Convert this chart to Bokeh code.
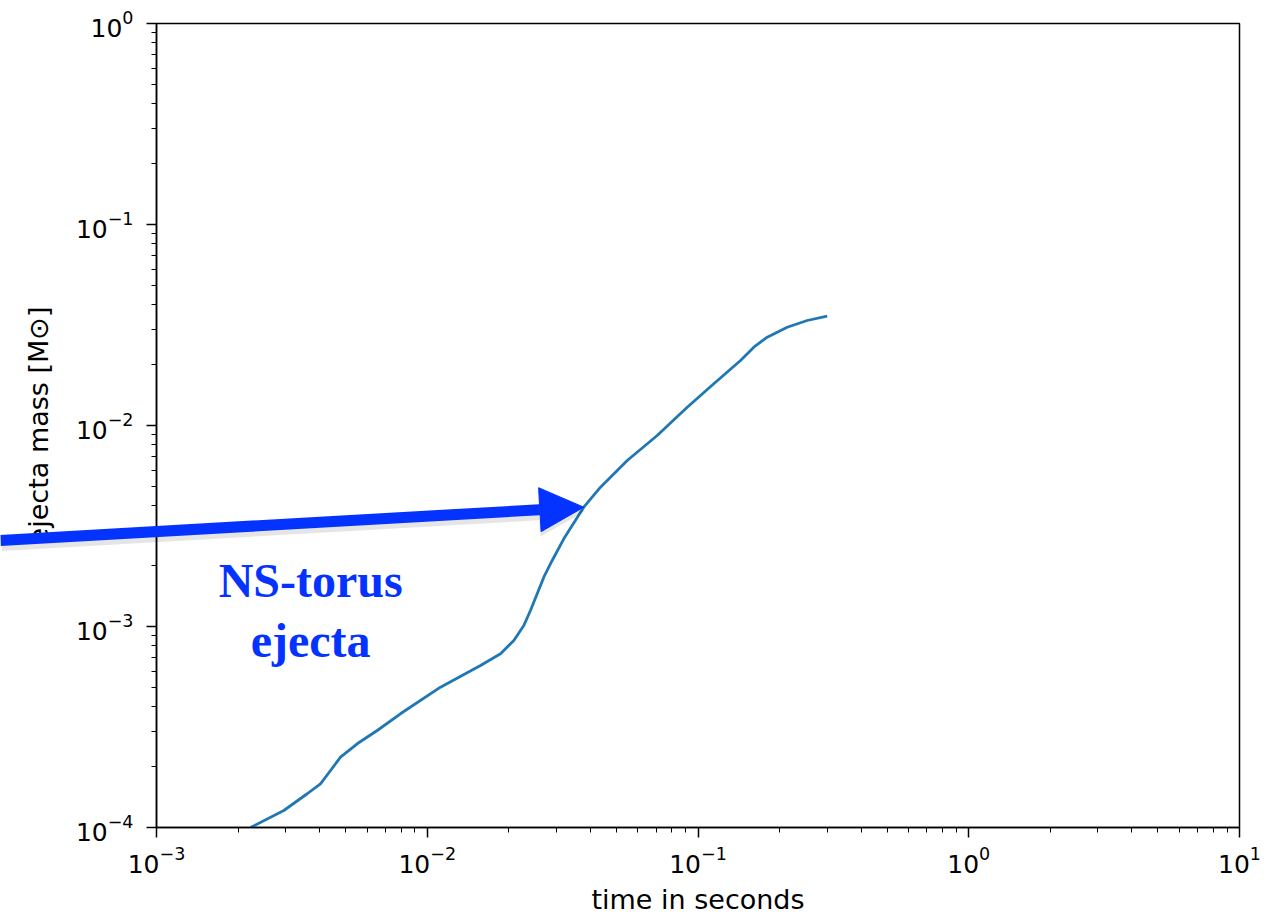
from bokeh.plotting import figure
from bokeh.models import Arrow, NormalHead, Label
from bokeh.embed import file_html
from bokeh.resources import INLINE

# Cumulative NS-torus ejecta mass versus time after merger
time_s = [0.002225, 0.002953, 0.003602, 0.004033, 0.004393, 0.004782, 0.005511,
          0.006533, 0.007960, 0.011192, 0.015727, 0.018650, 0.020880, 0.022733,
          0.024059, 0.025472, 0.026945, 0.028936, 0.031937, 0.037860, 0.043640,
          0.054780, 0.070677, 0.091240, 0.11436, 0.14355, 0.16074, 0.18019,
          0.21355, 0.25307, 0.29999]
ejecta_mass = [1.000e-4, 1.215e-4, 1.472e-4, 1.650e-4, 1.921e-4, 2.238e-4, 2.609e-4,
               3.038e-4, 3.680e-4, 4.989e-4, 6.397e-4, 7.313e-4, 8.519e-4, 1.0116e-3,
               1.2011e-3, 1.4545e-3, 1.759e-3, 2.130e-3, 2.731e-3, 3.923e-3, 4.932e-3,
               6.696e-3, 8.917e-3, 0.012333, 0.016124, 0.021056, 0.024527, 0.027499,
               0.030835, 0.033298, 0.03500]

x_decades = (-3, 1)
y_decades = (-4, 0)

# annotation: arrow pointing at the curve, and its caption
arrow_start = (2.65e-4, 2.68e-3)
arrow_tip_index = 19
caption = "NS-torus\nejecta"
caption_pos = (3.71e-3, 1.2e-3)

ANNOT_BLUE = "#0433ff"
FONT = "DejaVu Sans"

W, H = 1268, 922
BORDER_L, BORDER_R, BORDER_T, BORDER_B = 156, 29, 23, 95

p = figure(width=W, height=H, x_axis_type="log", y_axis_type="log",
           x_range=(10 ** x_decades[0], 10 ** x_decades[1]),
           y_range=(10 ** y_decades[0], 10 ** y_decades[1]),
           output_backend="svg", toolbar_location=None,
           min_border_left=BORDER_L, min_border_right=BORDER_R,
           min_border_top=BORDER_T, min_border_bottom=BORDER_B)

p.grid.visible = False
p.background_fill_color = "white"
p.border_fill_color = "white"
p.outline_line_color = "black"
p.outline_line_width = 1.5

for ax in (p.xaxis[0], p.yaxis[0]):
    ax.axis_line_color = "black"
    ax.axis_line_width = 1.5
    ax.major_tick_in = 0
    ax.major_tick_out = 10
    ax.minor_tick_in = 0
    ax.minor_tick_out = 5
    ax.major_tick_line_width = 1.5
    ax.minor_tick_line_width = 1
    ax.major_tick_line_color = "black"
    ax.minor_tick_line_color = "black"
    ax.major_label_text_font = FONT
    ax.major_label_text_font_size = "25px"
    ax.major_label_text_color = "black"
    ax.axis_label_text_font = FONT
    ax.axis_label_text_font_size = "27px"
    ax.axis_label_text_font_style = "normal"
    ax.axis_label_text_color = "black"

p.xaxis.axis_label = "time in seconds"
p.yaxis.axis_label = "ejecta mass [M\u2299]"
p.xaxis.major_label_standoff = 8
p.yaxis.major_label_standoff = 13
p.xaxis.axis_label_standoff = 8
p.yaxis.axis_label_standoff = 19

p.line(time_s, ejecta_mass, line_color="#1f77b4", line_width=2.8)

p.add_layout(Label(x=caption_pos[0], y=caption_pos[1], text=caption,
                   text_align="center", text_baseline="middle",
                   text_font="Liberation Serif", text_font_style="bold",
                   text_font_size="48px", text_color=ANNOT_BLUE,
                   text_line_height=1.12))

# Transparent overlay sharing the same log scales but spanning the whole canvas,
# so the arrow can run across the y axis to the left edge.
frame_w = W - BORDER_L - BORDER_R
frame_h = H - BORDER_T - BORDER_B
dx = (x_decades[1] - x_decades[0]) / frame_w
dy = (y_decades[1] - y_decades[0]) / frame_h
q = figure(width=W, height=H, x_axis_type="log", y_axis_type="log",
           x_range=(10 ** (x_decades[0] - BORDER_L * dx), 10 ** (x_decades[1] + BORDER_R * dx)),
           y_range=(10 ** (y_decades[0] - BORDER_B * dy), 10 ** (y_decades[1] + BORDER_T * dy)),
           output_backend="svg", toolbar_location=None,
           x_axis_location=None, y_axis_location=None,
           min_border=0)
q.grid.visible = False
q.outline_line_color = None
q.background_fill_alpha = 0
q.border_fill_alpha = 0
q.styles = {"position": "absolute", "left": "0px", "top": "0px"}

tip = (time_s[arrow_tip_index], ejecta_mass[arrow_tip_index])

# soft drop shadow under the arrow
shadow_shift = 10 ** (-4 * dy)
q.add_layout(Arrow(x_start=arrow_start[0] * 1.01, y_start=arrow_start[1] * shadow_shift,
                   x_end=tip[0] * 1.01, y_end=tip[1] * shadow_shift,
                   line_color="black", line_alpha=0.10, line_width=13,
                   end=NormalHead(size=46, fill_color="black", fill_alpha=0.10,
                                  line_color=None)))
q.add_layout(Arrow(x_start=arrow_start[0], y_start=arrow_start[1],
                   x_end=tip[0], y_end=tip[1],
                   line_color=ANNOT_BLUE, line_width=11,
                   end=NormalHead(size=44, fill_color=ANNOT_BLUE, line_color=ANNOT_BLUE,
                                  line_width=1)))

open("out.html", "w").write(file_html([p, q], INLINE))
